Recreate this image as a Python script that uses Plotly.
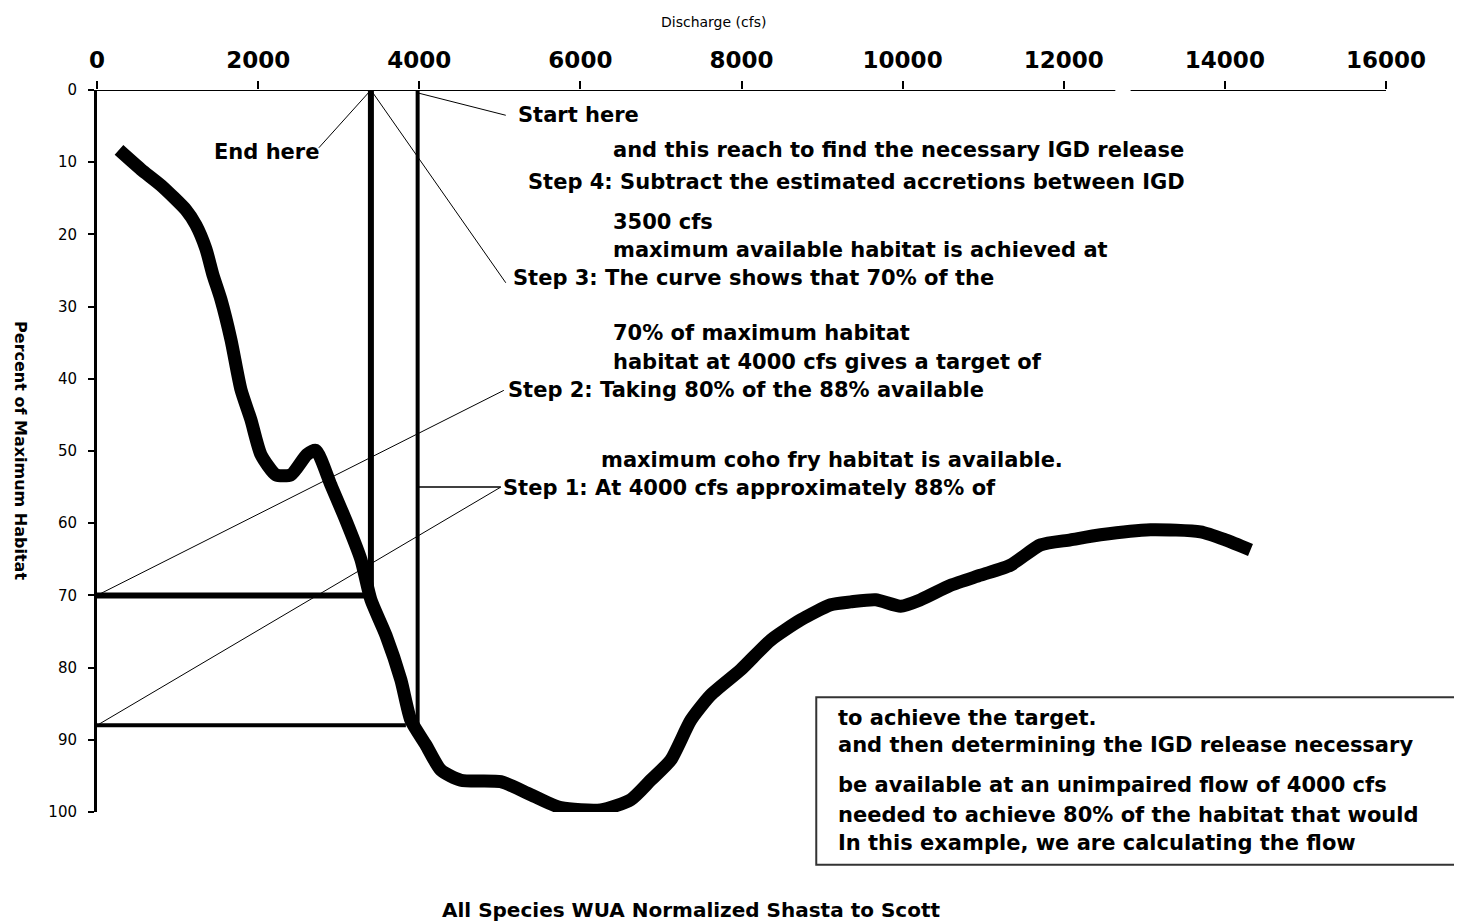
import plotly.graph_objects as go

# ---- data ----
flow_cfs = [273, 546, 794, 1104, 1228, 1352, 1439, 1538, 1663, 1787, 1911, 2035, 2221, 2407,
            2605, 2717, 2903, 3089, 3275, 3400, 3586, 3772, 3896, 4082, 4268, 4516, 5012, 5385,
            5757, 6253, 6625, 6873, 7122, 7370, 7618, 7990, 8362, 8734, 9107, 9355, 9665, 9975,
            10223, 10596, 10968, 11340, 11712, 12084, 12457, 13077, 13697, 14007, 14318]
pct_habitat = [8.3, 11.0, 13.2, 16.6, 18.7, 22.0, 25.6, 29.0, 34.6, 41.5, 45.7, 50.5, 53.3, 53.3,
               50.5, 49.9, 54.7, 59.6, 65.0, 70.6, 75.5, 81.7, 87.3, 90.7, 94.2, 95.6, 95.8, 97.6,
               99.4, 99.7, 98.3, 95.6, 92.8, 87.3, 83.8, 80.3, 76.2, 73.4, 71.3, 70.9, 70.6, 71.5,
               70.6, 68.6, 67.2, 65.8, 63.0, 62.3, 61.6, 60.9, 61.2, 62.3, 63.7]

x_ticks = [0, 2000, 4000, 6000, 8000, 10000, 12000, 14000, 16000]
y_ticks = [0, 10, 20, 30, 40, 50, 60, 70, 80, 90, 100]

target_flow = 3400      # flow reaching 70 %
start_flow = 3980       # 4000 cfs
target_pct = 70
start_pct = 88

step_texts = [
    # (x, y, text)
    (5198, 3.5, "Start here"),
    (6377, 8.3, "and this reach to find the necessary IGD release"),
    (5323, 12.7, "Step 4: Subtract the estimated accretions between IGD"),
    (6377, 18.3, "3500 cfs"),
    (6377, 22.2, "maximum available habitat is achieved at"),
    (5136, 26.0, "Step 3: The curve shows that 70% of the"),
    (6377, 33.7, "70% of maximum habitat"),
    (6377, 37.7, "habitat at 4000 cfs gives a target of"),
    (5074, 41.6, "Step 2: Taking 80% of the 88% available"),
    (6228, 51.2, "maximum coho fry habitat is available."),
    (5012, 55.1, "Step 1: At 4000 cfs approximately 88% of"),
]
box_lines = [
    (0.130, "to achieve the target."),
    (0.093, "and then determining the IGD release necessary"),
    (0.037, "be available at an unimpaired flow of 4000 cfs"),
    (-0.004, "needed to achieve 80% of the habitat that would"),
    (-0.043, "In this example, we are calculating the flow"),
]

FONT = "DejaVu Sans"

fig = go.Figure()
fig.add_trace(go.Scatter(x=flow_cfs, y=pct_habitat, mode="lines",
                         line=dict(color="black", width=13, shape="spline", smoothing=0.6),
                         showlegend=False, hoverinfo="skip"))

shapes = []
def seg(x0, y0, x1, y1, w):
    shapes.append(dict(type="line", xref="x", yref="y", x0=x0, y0=y0, x1=x1, y1=y1,
                       line=dict(color="black", width=w)))

# x axis line (with small gap as in the picture)
seg(0, 0, 12640, 0, 2)
seg(12830, 0, 16000, 0, 2)
# step lines
seg(target_flow, 0, target_flow, target_pct, 6)
seg(0, target_pct, target_flow, target_pct, 6)
seg(start_flow, 0, start_flow, start_pct, 4)
seg(0, start_pct, 3834, start_pct, 4)
# leader lines
seg(start_flow, 0.4, 5074, 3.5, 1)
seg(target_flow, 0, 2754, 8.0, 1)
seg(target_flow, 0, 5074, 26.7, 1)
seg(0, target_pct, 5050, 41.6, 1)
seg(0, start_pct, 5012, 55.0, 1)
seg(start_flow, 55.0, 5012, 55.0, 1.5)

# text box
shapes.append(dict(type="rect", xref="paper", yref="paper", x0=0.558, x1=1.056, y0=-0.073, y1=0.159,
                   line=dict(color="#333", width=2), fillcolor="white", layer="below"))

annotations = []
tf = dict(family=FONT, size=21, color="black")
for x, y, t in step_texts:
    annotations.append(dict(x=x, y=y, xref="x", yref="y", text="<b>" + t + "</b>", showarrow=False,
                            xanchor="left", yanchor="middle", font=tf))
annotations.append(dict(x=2779, y=8.6, xref="x", yref="y", text="<b>End here</b>", showarrow=False,
                        xanchor="right", yanchor="middle", font=tf))
for y, t in box_lines:
    annotations.append(dict(x=0.573, y=y, xref="paper", yref="paper", text="<b>" + t + "</b>",
                            showarrow=False, xanchor="left", yanchor="middle", font=tf))
annotations.append(dict(x=0.461, y=-0.136, xref="paper", yref="paper",
                        text="<b>All Species WUA Normalized Shasta to Scott</b>", showarrow=False,
                        xanchor="center", yanchor="middle", font=dict(family=FONT, size=20, color="black")))
annotations.append(dict(x=0.478, y=1.094, xref="paper", yref="paper", text="Discharge (cfs)",
                        showarrow=False, xanchor="center", yanchor="middle",
                        font=dict(family=FONT, size=14, color="black")))
annotations.append(dict(x=-0.059, y=0.50, xref="paper", yref="paper", text="<b>Percent of Maximum Habitat</b>",
                        showarrow=False, textangle=90, xanchor="center", yanchor="middle",
                        font=dict(family=FONT, size=16, color="black")))

fig.update_layout(
    width=1454, height=916,
    margin=dict(l=89, r=76, t=82, b=112),
    paper_bgcolor="white", plot_bgcolor="white",
    shapes=shapes, annotations=annotations,
    xaxis=dict(range=[0, 16000], side="top", tickvals=x_ticks, ticktext=[str(v) for v in x_ticks],
               showgrid=False, zeroline=False, showline=False, ticks="outside", ticklen=8,
               tickwidth=2, tickcolor="black",
               tickfont=dict(family=FONT, size=23, color="black"), ticklabelstandoff=4),
    yaxis=dict(range=[100, 0], tickvals=y_ticks, ticktext=[str(v) for v in y_ticks],
               showgrid=False, zeroline=False, showline=True, linecolor="black", linewidth=3,
               ticks="outside", ticklen=6, tickwidth=2, tickcolor="black",
               tickfont=dict(family=FONT, size=15, color="black"), ticklabelstandoff=8),
)
fig.update_xaxes(tickfont_weight="bold")

fig.write_html("out.html")
